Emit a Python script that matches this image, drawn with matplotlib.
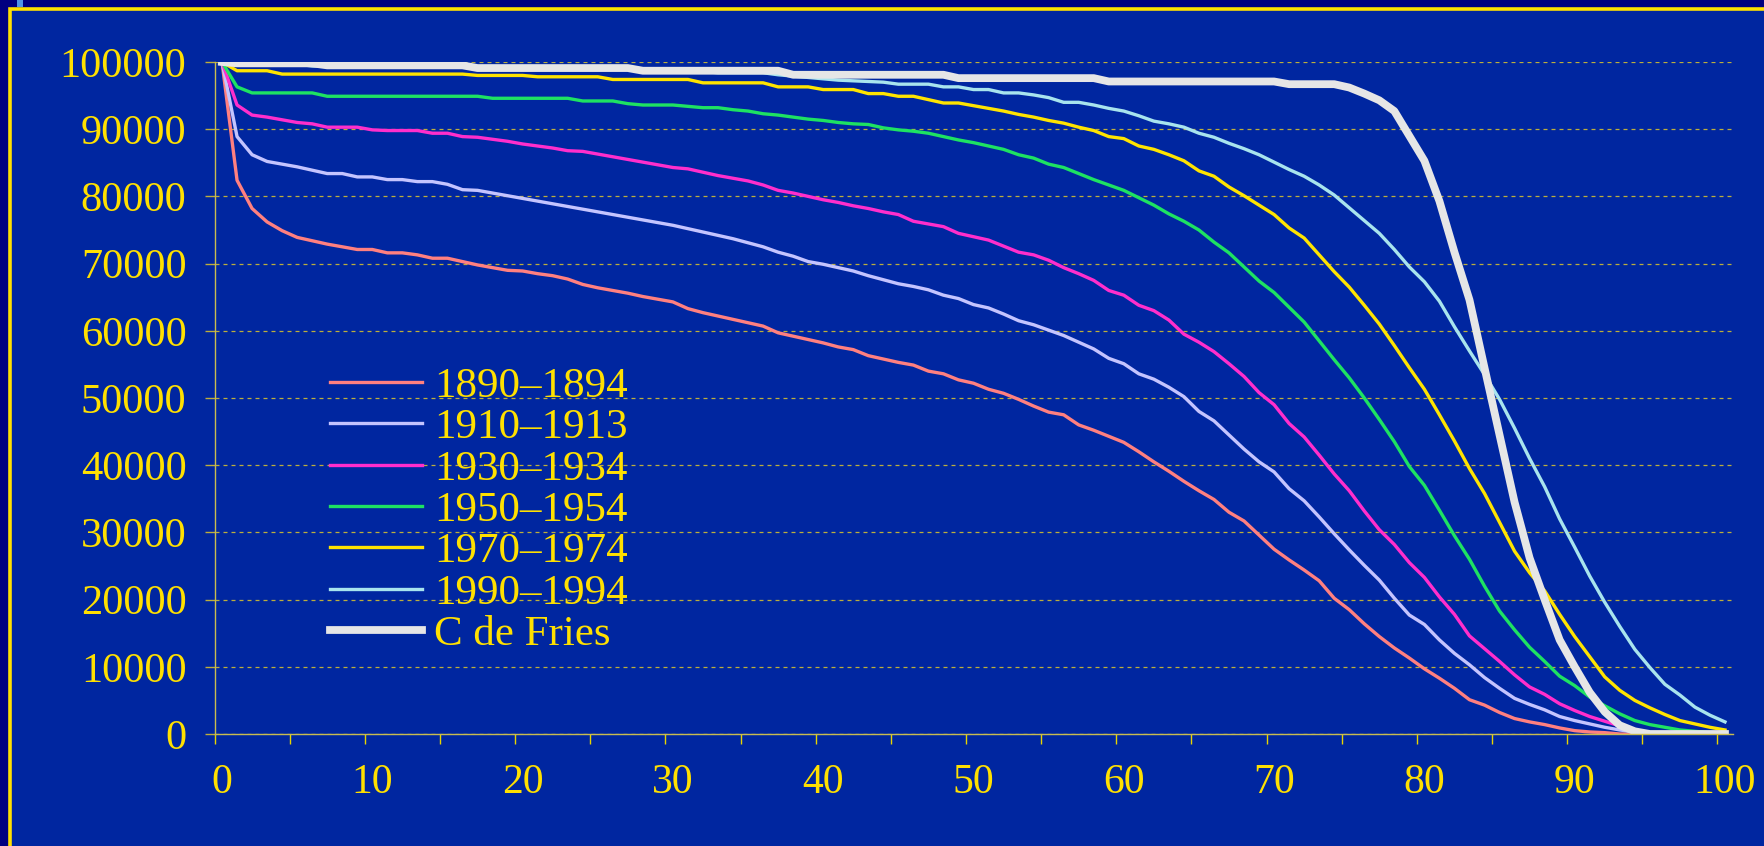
import matplotlib
matplotlib.use('Agg')
import matplotlib.pyplot as plt
from matplotlib.patches import Rectangle
import numpy as np

# leeftijd 0..100, overlevenden per 100000
ages = list(range(0, 101))

s1890 = [100000, 82400, 78200, 76200, 74900, 73900, 73400, 72900, 72500, 72100,
         72100, 71600, 71600, 71300, 70800, 70800, 70300, 69800, 69400, 69000,
         68900, 68500, 68200, 67700, 66900, 66400, 66000, 65600, 65100, 64700,
         64300, 63300, 62700, 62200, 61700, 61200, 60700, 59700, 59200, 58700,
         58200, 57600, 57200, 56300, 55800, 55300, 54900, 54000, 53600, 52700,
         52200, 51300, 50700, 49800, 48800, 47900, 47500, 46000, 45200, 44300,
         43400, 42000, 40500, 39100, 37600, 36200, 34900, 33000, 31700, 29600,
         27500, 25900, 24400, 22800, 20200, 18500, 16400, 14500, 12800, 11300,
         9700, 8300, 6800, 5100, 4300, 3200, 2300, 1800, 1400, 900,
         500, 300, 200, 0, 0, 0, 0, 0, 0, 0, 0]

s1910 = [100000, 88900, 86200, 85200, 84800, 84400, 83900, 83400, 83400, 82900,
         82900, 82500, 82500, 82200, 82200, 81800, 81000, 80900, 80500, 80100,
         79700, 79300, 78900, 78500, 78100, 77700, 77300, 76900, 76500, 76100,
         75700, 75200, 74700, 74200, 73700, 73100, 72500, 71700, 71100, 70300,
         69900, 69400, 68900, 68200, 67600, 67000, 66600, 66100, 65300, 64800,
         63900, 63400, 62500, 61500, 60900, 60100, 59300, 58300, 57300, 55900,
         55100, 53600, 52800, 51600, 50200, 48000, 46600, 44500, 42400, 40500,
         39000, 36500, 34700, 32300, 29800, 27400, 25100, 22900, 20200, 17700,
         16300, 14000, 12000, 10300, 8400, 6800, 5300, 4400, 3600, 2600,
         2000, 1500, 1000, 600, 300, 100, 0, 0, 0, 0, 0]

s1930 = [100000, 93600, 92100, 91800, 91400, 91000, 90800, 90300, 90300, 90300,
         89900, 89800, 89800, 89800, 89400, 89400, 88900, 88800, 88500, 88200,
         87800, 87500, 87200, 86800, 86700, 86300, 85900, 85500, 85100, 84700,
         84300, 84100, 83600, 83100, 82700, 82300, 81700, 80900, 80500, 80000,
         79500, 79100, 78600, 78200, 77700, 77300, 76300, 75900, 75500, 74500,
         74000, 73500, 72600, 71700, 71300, 70500, 69400, 68500, 67500, 66000,
         65300, 63800, 63000, 61600, 59500, 58300, 56900, 55100, 53200, 50800,
         49000, 46200, 44200, 41500, 38700, 36200, 33200, 30400, 28200, 25500,
         23300, 20400, 17800, 14600, 12700, 10800, 8800, 7000, 5900, 4500,
         3500, 2600, 1900, 1200, 500, 200, 0, 0, 0, 0, 0]

s1950 = [100000, 96300, 95400, 95400, 95400, 95400, 95400, 94900, 94900, 94900,
         94900, 94900, 94900, 94900, 94900, 94900, 94900, 94900, 94600, 94600,
         94600, 94600, 94600, 94600, 94200, 94200, 94200, 93800, 93600, 93600,
         93600, 93400, 93200, 93200, 92900, 92700, 92300, 92100, 91800, 91500,
         91300, 91000, 90800, 90700, 90200, 89900, 89700, 89400, 88900, 88400,
         88000, 87500, 87000, 86200, 85700, 84800, 84300, 83400, 82500, 81700,
         80900, 79800, 78700, 77400, 76300, 75000, 73200, 71600, 69500, 67400,
         65700, 63500, 61300, 58500, 55700, 53000, 50000, 46800, 43500, 39800,
         37000, 33300, 29500, 26000, 22000, 18300, 15500, 12900, 10800, 8600,
         7200, 5500, 4200, 3000, 2000, 1400, 1000, 600, 400, 200, 100]

s1970 = [100000, 98700, 98700, 98700, 98200, 98200, 98200, 98200, 98200, 98200,
         98200, 98200, 98200, 98200, 98200, 98200, 98200, 98000, 98000, 98000,
         98000, 97800, 97800, 97800, 97800, 97800, 97400, 97400, 97400, 97400,
         97400, 97400, 96900, 96900, 96900, 96900, 96900, 96300, 96300, 96300,
         95900, 95900, 95900, 95300, 95300, 94900, 94900, 94400, 93900, 93900,
         93500, 93100, 92700, 92200, 91800, 91300, 90900, 90300, 89800, 88900,
         88600, 87500, 87000, 86200, 85300, 83800, 83000, 81400, 80100, 78700,
         77300, 75300, 73800, 71300, 68800, 66500, 63800, 61000, 57800, 54500,
         51300, 47500, 43600, 39500, 35800, 31500, 27200, 24000, 21300, 17800,
         14500, 11500, 8500, 6500, 5000, 3900, 2900, 2000, 1500, 1000, 600]

s1990 = [100000, 99700, 99700, 99700, 99700, 99700, 99400, 99400, 99400, 99400,
         99400, 99400, 99400, 99400, 99400, 99400, 99400, 99000, 99000, 99000,
         99000, 99000, 99000, 98900, 98900, 98900, 98900, 98900, 98600, 98600,
         98600, 98600, 98600, 98400, 98400, 98400, 98400, 98100, 97900, 97700,
         97500, 97300, 97200, 97100, 97000, 96700, 96700, 96700, 96300, 96300,
         95900, 95900, 95400, 95400, 95100, 94700, 94000, 94000, 93600, 93100,
         92700, 92000, 91200, 90800, 90300, 89400, 88800, 87900, 87100, 86200,
         85100, 84000, 83000, 81700, 80200, 78300, 76400, 74500, 72100, 69500,
         67300, 64400, 60600, 57000, 53500, 49800, 45500, 41000, 36800, 32000,
         27800, 23500, 19600, 16000, 12600, 9900, 7400, 5800, 4000, 2800, 1800]

fries = [100000, 99800, 99800, 99800, 99800, 99800, 99800, 99500, 99500, 99500,
         99500, 99500, 99500, 99500, 99500, 99500, 99500, 99100, 99100, 99100,
         99100, 99100, 99100, 99100, 99100, 99100, 99100, 99100, 98700, 98700,
         98700, 98700, 98700, 98700, 98700, 98700, 98700, 98700, 98100, 98100,
         98100, 98100, 98100, 98100, 98100, 98100, 98100, 98100, 98100, 97600,
         97600, 97600, 97600, 97600, 97600, 97600, 97600, 97600, 97600, 97100,
         97100, 97100, 97100, 97100, 97100, 97100, 97100, 97100, 97100, 97100,
         97100, 96700, 96700, 96700, 96700, 96200, 95300, 94300, 92700, 89000,
         85300, 79300, 71700, 64600, 54500, 44500, 34500, 26200, 20000, 14000,
         10000, 6200, 3300, 1300, 400, 0, 0, 0, 0, 0, 0]

labels = ['1890\u20131894', '1910\u20131913', '1930\u20131934', '1950\u20131954',
          '1970\u20131974', '1990\u20131994', 'C de Fries']
series = [s1890, s1910, s1930, s1950, s1970, s1990, fries]
colors = ['#FF8080', '#C4C4FF', '#FF2ECC', '#1EE262', '#FFE400', '#A8E4EE', '#E6E6E6']
widths = [2.4, 2.4, 2.4, 2.4, 2.4, 2.4, 5.6]

yellow = '#FFE000'
grid_c = '#BDAE3C'
plt.rcParams['font.family'] = ['Liberation Serif', 'DejaVu Serif']

W, H = 1764, 846
fig = plt.figure(figsize=(W / 100, H / 100), dpi=100, facecolor='#000080')

# paneel met gele rand (achter de assen)
panel = Rectangle((9.5 / W, -0.1), 1.2, 1.1 - 9.5 / H, transform=fig.transFigure,
                  facecolor='#0026A0', edgecolor=yellow, linewidth=2.6, zorder=-10)
mark = Rectangle((17 / W, 1 - 7 / H), 6 / W, 7 / H, transform=fig.transFigure,
                 facecolor='#4F95E8', edgecolor='none', zorder=-9)
fig.patches.extend([panel, mark])

ax = fig.add_axes([214.5 / W, 1 - 734 / H, 1518 / W, 672 / H])
ax.set_facecolor('none')
ax.set_zorder(5)

for s, c, lw, lab in zip(series, colors, widths, labels):
    ax.plot(ages, s, color=c, lw=lw, label=lab, solid_joinstyle='round')

ax.set_xlim(-0.5, 100.5)
ax.set_ylim(0, 100000)

ax.set_xticks(np.arange(-0.5, 100, 5))
ax.set_xticklabels([])
ax.set_xticks(np.arange(0, 101, 10), minor=True)
ax.set_xticklabels([str(v) for v in range(0, 101, 10)], minor=True)
ax.tick_params(axis='x', which='major', direction='out', length=7.2, width=1, color='#E8D400')
ax.tick_params(axis='x', which='minor', length=0, pad=21, labelsize=30, labelcolor=yellow)

ax.set_yticks(np.arange(0, 100001, 10000))
ax.set_yticklabels([str(v) for v in range(0, 100001, 10000)])
ax.tick_params(axis='y', direction='out', length=7.2, width=1, color=grid_c,
               pad=13, labelsize=30.5, labelcolor=yellow)

ax.yaxis.grid(True, color=grid_c, lw=0.9, linestyle=(0, (3.2, 3.2)))
ax.set_axisbelow(True)

for side in ['top', 'right']:
    ax.spines[side].set_visible(False)
for side in ['left', 'bottom']:
    ax.spines[side].set_color('#C8BC50')
    ax.spines[side].set_linewidth(1.0)

leg = ax.legend(loc='upper left', bbox_to_anchor=(330 / W, 1 - 367 / H),
                bbox_transform=fig.transFigure, frameon=False, fontsize=31,
                labelcolor=yellow, handlelength=2.14, handletextpad=0.28,
                labelspacing=0.05, borderpad=0, borderaxespad=0)

fig.savefig('out.png', dpi=100, facecolor=fig.get_facecolor())
